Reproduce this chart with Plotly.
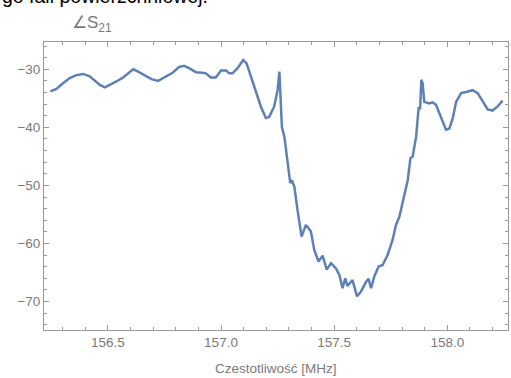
import plotly.graph_objects as go

freq_mhz = [156.246, 156.273, 156.302, 156.332, 156.361, 156.391, 156.420, 156.443, 156.465, 156.487,
            156.509, 156.538, 156.568, 156.590, 156.612, 156.634, 156.664, 156.693, 156.722, 156.752,
            156.786, 156.815, 156.837, 156.859, 156.889, 156.918, 156.933, 156.955, 156.977, 157.000,
            157.022, 157.036, 157.051, 157.073, 157.098, 157.113, 157.132, 157.154, 157.176, 157.198,
            157.213, 157.235, 157.250, 157.258, 157.269, 157.280, 157.294, 157.306, 157.313, 157.324,
            157.338, 157.356, 157.375, 157.397, 157.412, 157.431, 157.449, 157.467, 157.486, 157.508,
            157.523, 157.537, 157.549, 157.559, 157.581, 157.601, 157.618, 157.641, 157.652, 157.663,
            157.677, 157.696, 157.714, 157.736, 157.758, 157.773, 157.788, 157.810, 157.825, 157.837,
            157.847, 157.862, 157.873, 157.880, 157.885, 157.891, 157.898, 157.920, 157.935, 157.950,
            157.972, 157.994, 158.009, 158.024, 158.039, 158.061, 158.083, 158.112, 158.134, 158.156,
            158.178, 158.200, 158.222, 158.244]
phase_s21 = [-33.8, -33.4, -32.4, -31.5, -31.0, -30.8, -31.2, -32.0, -32.7, -33.1,
             -32.7, -32.1, -31.4, -30.7, -30.0, -30.4, -31.0, -31.7, -32.0, -31.3,
             -30.6, -29.6, -29.4, -29.8, -30.5, -30.6, -30.7, -31.4, -31.4, -30.2,
             -30.2, -30.7, -30.7, -29.8, -28.4, -29.0, -31.3, -33.6, -36.4, -38.4,
             -38.2, -36.4, -33.6, -30.4, -39.9, -41.6, -45.6, -49.6, -49.1, -50.2,
             -54.2, -58.8, -56.8, -57.9, -61.1, -63.1, -62.1, -64.5, -63.4, -64.3,
             -65.4, -67.7, -66.0, -67.3, -66.3, -69.1, -68.3, -66.6, -66.1, -67.7,
             -65.7, -64.0, -63.7, -62.0, -59.4, -56.8, -55.4, -51.9, -49.1, -45.3,
             -45.0, -41.6, -36.7, -36.7, -31.8, -32.4, -35.6, -35.9, -35.7, -36.1,
             -38.4, -40.4, -40.2, -38.4, -35.6, -34.1, -33.9, -33.6, -34.1, -35.6,
             -36.9, -37.1, -36.4, -35.4]

line_color = "#5E81B5"
frame_color = "#9a9a9a"
label_color = "#7a7a7a"
font_family = "Arial, Liberation Sans"

fig = go.Figure()
fig.add_trace(go.Scatter(x=freq_mhz, y=phase_s21, mode="lines",
                         line=dict(color=line_color, width=2.5), showlegend=False))

axis_common = dict(showline=True, linecolor=frame_color, linewidth=1, mirror="allticks",
                   ticks="inside", ticklen=5, tickcolor=frame_color, tickwidth=1,
                   showgrid=False, zeroline=False,
                   tickfont=dict(family=font_family, size=13.5, color=label_color))

fig.update_xaxes(range=[156.218, 158.268], dtick=0.5, tick0=156.5, tickformat=".1f",
                 minor=dict(ticks="inside", dtick=0.1, tick0=156.0, ticklen=3, tickcolor=frame_color),
                 **axis_common)
fig.update_yaxes(range=[-74.9, -25.3], dtick=10, tick0=-30,
                 minor=dict(ticks="inside", dtick=2, tick0=-30, ticklen=3, tickcolor=frame_color),
                 **axis_common)

fig.add_annotation(text="∠S<sub>21</sub>", xref="paper", yref="paper", x=0.055, y=1.0,
                   xanchor="left", yanchor="bottom", yshift=5, showarrow=False,
                   font=dict(family=font_family, size=17, color=label_color))
fig.add_annotation(text="Czestotliwość [MHz]", xref="paper", yref="paper", x=0.5, y=0,
                   xanchor="center", yanchor="top", yshift=-29, showarrow=False,
                   font=dict(family=font_family, size=13.5, color=label_color))
fig.add_annotation(text="go fali powierzchniowej.", xref="paper", yref="paper", x=0, y=1,
                   xanchor="left", yanchor="bottom", xshift=-44, yshift=33, showarrow=False,
                   font=dict(family=font_family, size=19.5, color="#000000"))

fig.update_layout(width=511, height=378, margin=dict(l=44, r=3, t=42, b=48),
                  plot_bgcolor="white", paper_bgcolor="white")

fig.write_html("out.html", config={"displayModeBar": False},
               post_script="document.body.style.margin='0';")
